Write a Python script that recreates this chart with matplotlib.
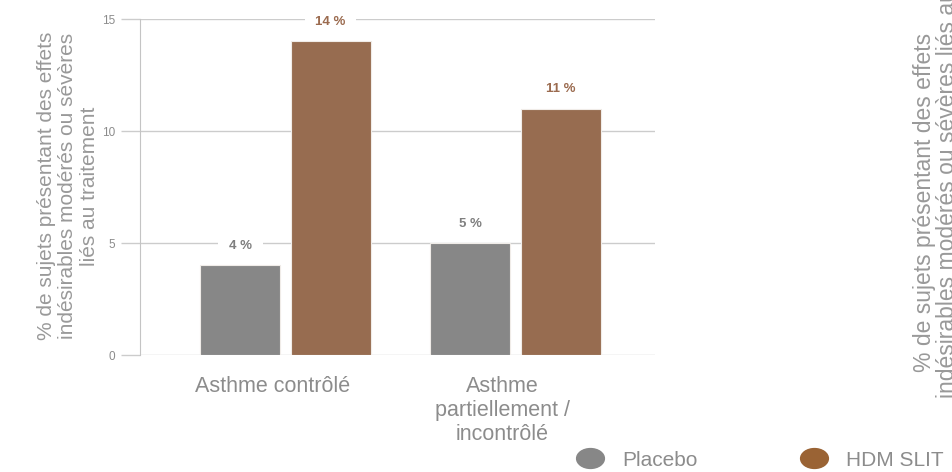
import matplotlib
matplotlib.use("Agg")
import matplotlib.pyplot as plt
import numpy as np
from matplotlib.lines import Line2D
from matplotlib.path import Path
from matplotlib.transforms import Affine2D, ScaledTranslation

plt.rcParams['font.family'] = ['Liberation Sans', 'DejaVu Sans']

# Données
categories = ["Asthme contrôlé", "Asthme\npartiellement /\nincontrôlé"]
series = ["Placebo", "HDM SLIT"]
placebo = [4, 5]
hdm_slit = [14, 11]
yticks = [0, 5, 10, 15]
ylabel = "% de sujets présentant des effets\nindésirables modérés ou sévères\nliés au traitement"
# libellé du graphique voisin (coupé au bord droit)
ylabel_droite = ["% de sujets présentant des effets",
                 "indésirables modérés ou sévères liés au traitement"]

bar_colors = ['#878787', '#976c50']
label_colors = ['#7f7f7f', '#9b6b4f']
legend_colors = ['#878787', '#9a6334']
txt_gray = '#8c8c8c'
grid_gray = '#cccccc'

fig = plt.figure(figsize=(9.53, 4.72), dpi=100)
ax = fig.add_axes([140 / 953, 1 - 355 / 472, 515 / 953, 336 / 472])

x = np.arange(len(categories))
width = 0.348
offset = 0.196

for i, vals in enumerate([placebo, hdm_slit]):
    pos = x + (i * 2 - 1) * offset
    bars = ax.bar(pos, vals, width, color=bar_colors[i], edgecolor='#f0ece8',
                  linewidth=0.8, zorder=3)
    for b, v in zip(bars, vals):
        ax.annotate(f"{v} %", (b.get_x() + b.get_width() / 2, v),
                    xytext=(0, 14), textcoords='offset points',
                    ha='center', va='center', fontsize=9.5, fontweight='bold',
                    color=label_colors[i], zorder=2.5,
                    bbox=dict(boxstyle='square,pad=0.8', fc='white', ec='none'))

ax.set_xlim(-0.633, 1.607)
ax.set_ylim(0, 15)
ax.set_yticks(yticks)
ax.set_yticklabels([str(t) for t in yticks], fontsize=8.5, color=txt_gray)
ax.set_xticks(x)
ax.set_xticklabels(categories, fontsize=15.5, color=txt_gray, linespacing=1.2)
ax.tick_params(axis='x', length=0, pad=15)
ax.tick_params(axis='y', length=14, width=1, color=grid_gray, pad=4)
# les libellés de catégories sont un peu décalés vers la gauche
decal = ScaledTranslation(-13 / 100, 0, fig.dpi_scale_trans)
for lab in ax.get_xticklabels():
    lab.set_transform(lab.get_transform() + decal)

ax.grid(axis='y', color=grid_gray, linewidth=1, zorder=1)
ax.set_axisbelow(True)
for s in ['top', 'right', 'bottom']:
    ax.spines[s].set_visible(False)
ax.spines['left'].set_color('#c4c4c4')
ax.spines['left'].set_zorder(1)

fig.text(68 / 953, 1 - 186 / 472, ylabel, rotation=90, ha='center', va='center',
         fontsize=15, color='#999999', linespacing=1.15)

fig.text(925 / 953, 1 - 202 / 472, ylabel_droite[0], rotation=90, ha='center',
         va='center', fontsize=16.5, color='#999999')
fig.text(948 / 953, 1 - 398 / 472, ylabel_droite[1], rotation=90, ha='center',
         va='bottom', fontsize=16.5, color='#999999')

ellipse = Path.unit_circle().transformed(Affine2D().scale(1.4, 1.0))
handles = [Line2D([], [], linestyle='none', marker=ellipse, markersize=20,
                  markerfacecolor=c, markeredgecolor=c) for c in legend_colors]
leg = fig.legend(handles, series, loc='center left', ncol=2, frameon=False,
                 bbox_to_anchor=(575 / 953, 1 - 460 / 472), fontsize=15,
                 handletextpad=0.85, columnspacing=4.9, handlelength=1.4,
                 borderaxespad=0, borderpad=0)
for t in leg.get_texts():
    t.set_color(txt_gray)

fig.savefig("out.png", dpi=100)
